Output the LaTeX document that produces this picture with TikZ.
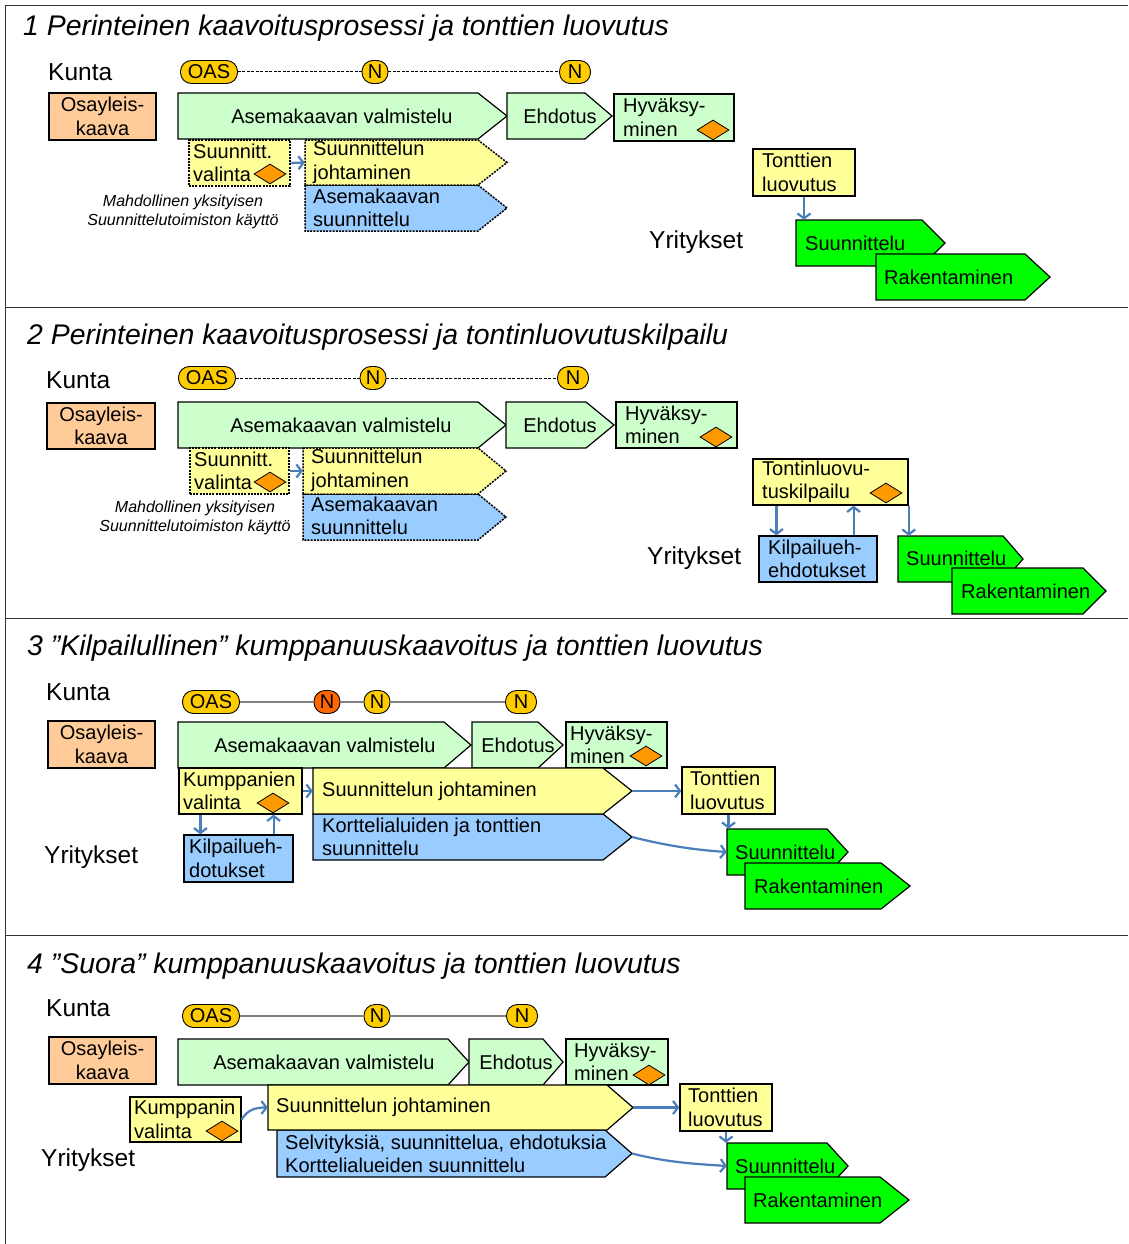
\documentclass[tikz,border=0pt]{standalone}
\usepackage{fontspec}
\setmainfont{Liberation Sans}
\usetikzlibrary{arrows.meta,shapes.geometric,fit}

\definecolor{peach}{HTML}{FFCC99}
\definecolor{lgreen}{HTML}{CCFFCC}
\definecolor{lyellow}{HTML}{FFFF99}
\definecolor{lblue}{HTML}{99CCFF}
\definecolor{vgreen}{HTML}{00FF00}
\definecolor{dorange}{HTML}{FF9900}
\definecolor{gold}{HTML}{FFCC00}
\definecolor{redorange}{HTML}{FF6600}
\definecolor{linkblue}{HTML}{4A7EBB}
\definecolor{framegray}{HTML}{333333}

\newcommand\boxfont{\fontsize{20}{23.5}\selectfont}
\newcommand\rolefont{\fontsize{24.5}{28}\selectfont}
\newcommand\headfont{\fontsize{28.4}{32}\selectfont\itshape}
\newcommand\notefont{\fontsize{16}{19}\selectfont\itshape}

% arrow-shaped process box: name, style, left, top, point start, tip, bottom
\newcommand\sigshape[7]{%
  \path[#2] (#3,#4) -- (#5,#4) -- (#6,{(#4+#7)/2}) -- (#5,#7) -- (#3,#7) -- cycle;
  \node[fit={(#3,#4) (#6,#7)}, inner sep=0pt] (#1) {};}
% rectangular box: name, style, left, top, right, bottom
\newcommand\rectbox[6]{%
  \node[#2, fit={(#3,#4) (#5,#6)}, inner sep=0pt] (#1) {};}

\begin{document}
\begin{tikzpicture}[x=1pt,y=-1pt,
  frame/.style={draw=framegray, line width=1.3pt},
  shp/.style={draw=black, line width=1.2pt},
  dotline/.style={draw=black, line width=1.5pt, dash pattern=on 2pt off 1.2pt},
  pbox/.style={shp, fill=peach},
  gbox/.style={shp, fill=lgreen},
  ybox/.style={shp, fill=lyellow},
  bbox/.style={shp, fill=lblue},
  vbox/.style={shp, fill=vgreen},
  ydot/.style={dotline, fill=lyellow},
  bdot/.style={dotline, fill=lblue},
  lbl/.style={font=\boxfont, align=left, inner sep=0pt, anchor=west},
  clbl/.style={font=\boxfont, align=center, inner sep=0pt},
  role/.style={font=\rolefont, inner sep=0pt, anchor=west},
  head/.style={font=\headfont, inner sep=0pt, anchor=base west},
  note/.style={font=\notefont, align=center, inner sep=0pt},
  pill/.style={draw=black, line width=0.9pt, fill=gold, rounded corners=11pt,
    minimum height=23, inner sep=1pt, font=\boxfont},
  oas/.style={pill, minimum width=57},
  nround/.style={pill, minimum width=26},
  nwide/.style={pill, minimum width=31},
  dashtl/.style={draw=black, line width=1pt, dash pattern=on 3pt off 1.5pt},
  solidtl/.style={draw=gray, line width=1.1pt},
  dmark/.style={diamond, draw=black, line width=0.8pt, fill=dorange, inner sep=0pt,
    minimum width=32, minimum height=20},
  conn/.style={draw=linkblue, line width=2.2pt,
    -{Straight Barb[length=5pt,width=13pt]}}
]
\useasboundingbox (0,0) rectangle (1128,1244);
\fill[white] (0,0) rectangle (1128,1244);

% panel frame
\draw[frame] (5.5,1244) -- (5.5,5.5) -- (1128,5.5);
\draw[frame] (5.5,307.5) -- (1128,307.5);
\draw[frame] (5.5,618.5) -- (1128,618.5);
\draw[frame] (5.5,935.5) -- (1128,935.5);

% ================= 1 =================
\node[head] (h1) at (23,36) {1 Perinteinen kaavoitusprosessi ja tonttien luovutus};
\node[role] (k1) at (48,72) {Kunta};
\node[oas] (o1) at (209,72) {OAS};
\node[nround] (n1a) at (375,72) {N};
\node[nwide] (n1b) at (575,72) {N};
\draw[dashtl] (o1.east) -- (n1a.west);
\draw[dashtl] (n1a.east) -- (n1b.west);

\rectbox{oy1}{pbox}{49}{93}{156}{140}
\node[clbl] (oy1t) at (oy1.center) {Osayleis-\\kaava};
\sigshape{av1}{gbox}{178}{93}{478}{507}{139}
\node[clbl] (av1t) at (342,116) {Asemakaavan valmistelu};
\sigshape{eh1}{gbox}{507}{93}{585}{612}{139}
\node[clbl] (eh1t) at (560,116) {Ehdotus};
\rectbox{hy1}{gbox}{614}{94}{734}{141}
\node[lbl] (hy1t) at (623,117.5) {Hyväksy-\\minen};
\node[dmark] (hy1d) at (713,130) {};

\sigshape{as1}{bdot}{305}{185}{478}{507}{231}
\sigshape{sj1}{ydot}{305}{140}{478}{507}{185}
\node[lbl] (sj1t) at (313,162.5) {Suunnittelun\\johtaminen};
\node[lbl] (as1t) at (313,208) {Asemakaavan\\suunnittelu};
\rectbox{sv1}{ydot}{189}{140}{290}{186}
\node[lbl] (sv1t) at (193,163) {Suunnitt.\\valinta};
\node[dmark] (sv1d) at (270,174) {};
\draw[conn] (sv1.east) -- (sj1.west);
\node[note] (nt1) at (183,211.5) {Mahdollinen yksityisen\\Suunnittelutoimiston käyttö};

\rectbox{tl1}{ybox}{753}{149}{855}{196}
\node[lbl] (tl1t) at (762,172.5) {Tonttien\\luovutus};
\node[role] (y1) at (649,242) {Yritykset};
\sigshape{su1}{vbox}{796}{220}{922}{945}{266}
\node[lbl] (su1t) at (805,243) {Suunnittelu};
\sigshape{ra1}{vbox}{876}{254}{1025}{1050}{300}
\node[lbl] (ra1t) at (884,277) {Rakentaminen};
\draw[conn] (tl1.south) -- (tl1.south |- su1.north);

% ================= 2 =================
\node[head] (h2) at (27,344) {2 Perinteinen kaavoitusprosessi ja tontinluovutuskilpailu};
\node[role] (k2) at (46,380) {Kunta};
\node[oas] (o2) at (207,378) {OAS};
\node[nround] (n2a) at (373,378) {N};
\node[nwide] (n2b) at (573,378) {N};
\draw[dashtl] (o2.east) -- (n2a.west);
\draw[dashtl] (n2a.east) -- (n2b.west);

\rectbox{oy2}{pbox}{47}{403}{155}{449}
\node[clbl] (oy2t) at (oy2.center) {Osayleis-\\kaava};
\sigshape{av2}{gbox}{178}{402}{478}{506}{448}
\node[clbl] (av2t) at (341,425) {Asemakaavan valmistelu};
\sigshape{eh2}{gbox}{506}{402}{586}{614}{448}
\node[clbl] (eh2t) at (560,425) {Ehdotus};
\rectbox{hy2}{gbox}{616}{402}{737}{448}
\node[lbl] (hy2t) at (625,425) {Hyväksy-\\minen};
\node[dmark] (hy2d) at (716,437) {};

\sigshape{as2}{bdot}{303}{494}{478}{506}{540}
\sigshape{sj2}{ydot}{303}{448}{478}{506}{494}
\node[lbl] (sj2t) at (311,470.5) {Suunnittelun\\johtaminen};
\node[lbl] (as2t) at (311,516) {Asemakaavan\\suunnittelu};
\rectbox{sv2}{ydot}{190}{448}{289}{494}
\node[lbl] (sv2t) at (194,471) {Suunnitt.\\valinta};
\node[dmark] (sv2d) at (270,482) {};
\draw[conn] (sv2.east) -- (sj2.west);
\node[note] (nt2) at (195,517.5) {Mahdollinen yksityisen\\Suunnittelutoimiston käyttö};

\rectbox{tk2}{ybox}{753}{459}{908}{505}
\node[lbl] (tk2t) at (762,482) {Tontinluovu-\\tuskilpailu};
\node[dmark] (tk2d) at (886,493) {};
\node[role] (y2) at (647,558) {Yritykset};
\rectbox{kl2}{bbox}{759}{536}{877}{582}
\node[lbl] (kl2t) at (768,559) {Kilpailueh-\\ehdotukset};
\sigshape{su2}{vbox}{898}{536}{1003}{1023}{582}
\node[lbl] (su2t) at (906,558) {Suunnittelu};
\sigshape{ra2}{vbox}{952}{568}{1083}{1106}{614}
\node[lbl] (ra2t) at (961,591) {Rakentaminen};
\coordinate (kl2in) at ([xshift=18pt]kl2.north west);
\coordinate (kl2out) at ([xshift=-24pt]kl2.north east);
\coordinate (su2in) at ([xshift=11pt]su2.north west);
\draw[conn] (kl2in |- tk2.south) -- (kl2in);
\draw[conn] (kl2out) -- (kl2out |- tk2.south);
\draw[conn] (su2in |- tk2.south) -- (su2in);

% ================= 3 =================
\node[head] (h3) at (27,655) {3 ”Kilpailullinen” kumppanuuskaavoitus ja tonttien luovutus};
\node[role] (k3) at (46,692) {Kunta};
\node[oas] (o3) at (211,702) {OAS};
\node[nround, fill=redorange] (n3a) at (327,702) {N};
\node[nround] (n3b) at (377,702) {N};
\node[nwide] (n3c) at (521,702) {N};
\draw[solidtl] (o3.east) -- (n3a.west);
\draw[solidtl] (n3a.east) -- (n3b.west);
\draw[solidtl] (n3b.east) -- (n3c.west);

\rectbox{oy3}{pbox}{48}{721}{155}{768}
\node[clbl] (oy3t) at (oy3.center) {Osayleis-\\kaava};
\sigshape{av3}{gbox}{178}{722}{444}{471}{768}
\node[clbl] (av3t) at (325,745) {Asemakaavan valmistelu};
\sigshape{eh3}{gbox}{472}{722}{538}{563}{768}
\node[clbl] (eh3t) at (518,745) {Ehdotus};
\rectbox{hy3}{gbox}{566}{722}{667}{768}
\node[lbl] (hy3t) at (570,745) {Hyväksy-\\minen};
\node[dmark] (hy3d) at (646,756) {};

\sigshape{ko3}{bbox}{313}{814}{603}{632}{860}
\sigshape{sj3}{ybox}{313}{768}{603}{632}{814}
\node[lbl] (sj3t) at (322,791) {Suunnittelun johtaminen};
\node[lbl] (ko3t) at (322,837) {Korttelialuiden ja tonttien\\suunnittelu};
\rectbox{kv3}{ybox}{179}{768}{302}{814}
\node[lbl] (kv3t) at (183,791) {Kumppanien\\valinta};
\node[dmark] (kv3d) at (273,803) {};
\draw[conn] (kv3.east) -- (sj3.west);
\rectbox{kd3}{bbox}{184}{835}{293}{882}
\node[lbl] (kd3t) at (189,858.5) {Kilpailueh-\\dotukset};
\coordinate (kd3in) at ([xshift=17pt]kd3.north west);
\coordinate (kd3out) at ([xshift=-20pt]kd3.north east);
\draw[conn] (kd3in |- kv3.south) -- (kd3in);
\draw[conn] (kd3out) -- (kd3out |- kv3.south);
\node[role] (y3) at (44,857) {Yritykset};

\rectbox{tl3}{ybox}{682}{767}{775}{814}
\node[lbl] (tl3t) at (690,790.5) {Tonttien\\luovutus};
\sigshape{su3}{vbox}{727}{829}{827}{848}{875}
\node[lbl] (su3t) at (735,852) {Suunnittelu};
\sigshape{ra3}{vbox}{745}{863}{881}{910}{909}
\node[lbl] (ra3t) at (754,886) {Rakentaminen};
\draw[conn] (sj3.east) -- (tl3.west |- sj3.east);
\draw[conn] (tl3.south) -- (tl3.south |- su3.north);
\draw[conn] (ko3.east) .. controls +(35,9) and +(-30,-2) .. (su3.west);

% ================= 4 =================
\node[head] (h4) at (27,973) {4 ”Suora” kumppanuuskaavoitus ja tonttien luovutus};
\node[role] (k4) at (46,1008) {Kunta};
\node[oas] (o4) at (211,1016) {OAS};
\node[nround] (n4a) at (377,1016) {N};
\node[nwide] (n4b) at (522,1016) {N};
\draw[solidtl] (o4.east) -- (n4a.west);
\draw[solidtl] (n4a.east) -- (n4b.west);

\rectbox{oy4}{pbox}{49}{1037}{156}{1084}
\node[clbl] (oy4t) at (oy4.center) {Osayleis-\\kaava};
\sigshape{av4}{gbox}{178}{1039}{448}{469}{1085}
\node[clbl] (av4t) at (324,1062) {Asemakaavan valmistelu};
\sigshape{eh4}{gbox}{469}{1039}{543}{563}{1085}
\node[clbl] (eh4t) at (516,1062) {Ehdotus};
\rectbox{hy4}{gbox}{566}{1039}{668}{1085}
\node[lbl] (hy4t) at (574,1062) {Hyväksy-\\minen};
\node[dmark] (hy4d) at (649,1075) {};

\sigshape{se4}{bbox}{277}{1130}{605}{632}{1177}
\sigshape{sj4}{ybox}{268}{1085}{607}{633}{1130}
\node[lbl] (sj4t) at (276,1107.5) {Suunnittelun johtaminen};
\node[lbl] (se4t) at (285,1154) {Selvityksiä, suunnittelua, ehdotuksia\\Korttelialueiden suunnittelu};
\rectbox{kv4}{ybox}{130}{1097}{241}{1142}
\node[lbl] (kv4t) at (134,1119.5) {Kumppanin\\valinta};
\node[dmark] (kv4d) at (222,1131) {};
\draw[conn] (kv4.east) .. controls +(6,-10) and +(-12,0) .. (sj4.west);
\node[role] (y4) at (41,1160) {Yritykset};

\rectbox{tl4}{ybox}{680}{1084}{772}{1131}
\node[lbl] (tl4t) at (688,1107.5) {Tonttien\\luovutus};
\sigshape{su4}{vbox}{727}{1143}{827}{848}{1189}
\node[lbl] (su4t) at (735,1166) {Suunnittelu};
\sigshape{ra4}{vbox}{745}{1177}{880}{909}{1223}
\node[lbl] (ra4t) at (753,1200) {Rakentaminen};
\draw[conn] (sj4.east) -- (tl4.west |- sj4.east);
\draw[conn] (tl4.south) -- (tl4.south |- su4.north);
\draw[conn] (se4.east) .. controls +(35,9) and +(-30,-2) .. (su4.west);
\end{tikzpicture}
\end{document}
